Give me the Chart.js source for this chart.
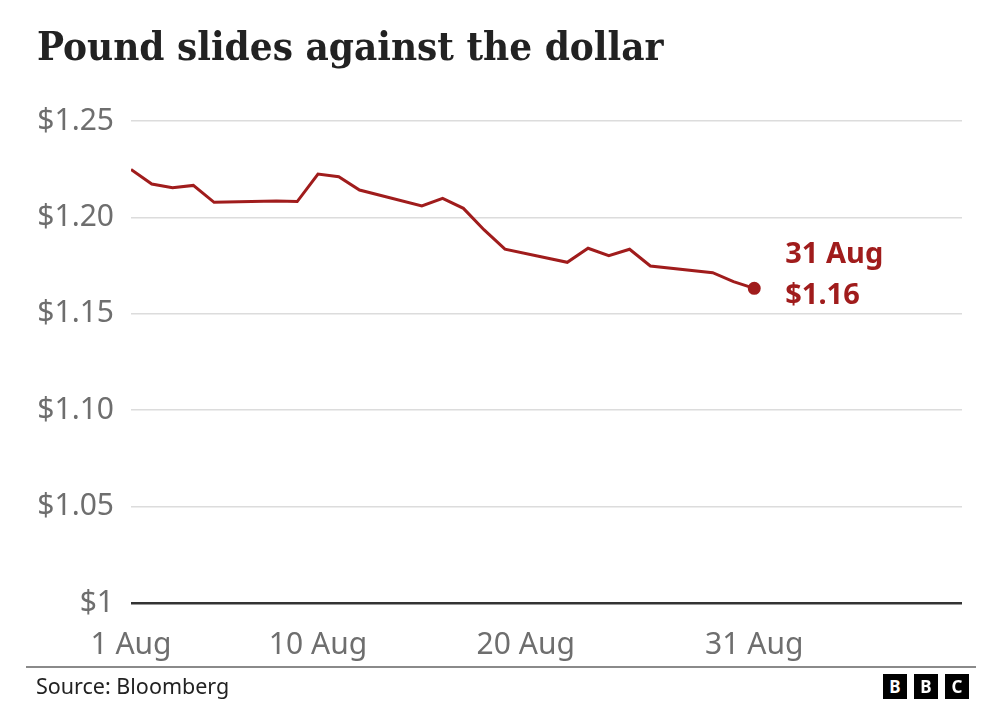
<!DOCTYPE html>
<html>
<head>
<meta charset="utf-8">
<script src="https://cdn.jsdelivr.net/npm/chart.js@4.4.0/dist/chart.umd.min.js"></script>
<style>
    body { margin: 0; background: #fff; }
    #wrap { position: relative; width: 999px; height: 727px; overflow: hidden; }
    #lineChart { position: absolute; left: 0; top: 0; }
    .title {
        position: absolute; left: 37px; top: 22px;
        font-family: 'DejaVu Serif Condensed', 'DejaVu Serif', serif;
        font-weight: bold; font-size: 40px; color: #222; line-height: 48px;
        white-space: nowrap;
    }
    .rule { position: absolute; left: 26px; top: 666px; width: 950px; height: 2px; background: #8a8a8a; }
    .source {
        position: absolute; left: 36px; top: 672px;
        font-family: 'Noto Sans', sans-serif; font-size: 21.5px; color: #222; line-height: 28px;
    }
    .bbc { position: absolute; top: 674px; width: 24px; height: 25px; background: #000;
        color: #fff; font-family: 'Noto Sans', sans-serif; font-weight: bold; font-size: 17px;
        line-height: 25px; text-align: center; }
</style>
</head>
<body>
<div id="wrap">
    <canvas id="lineChart" width="999" height="727"></canvas>
    <div class="title">Pound slides against the dollar</div>
    <div class="rule"></div>
    <div class="source">Source: Bloomberg</div>
    <div class="bbc" style="left:883px">B</div>
    <div class="bbc" style="left:914px">B</div>
    <div class="bbc" style="left:945px">C</div>
</div>
<script>
// August trading days and GBP/USD close
const days = [1, 2, 3, 4, 5, 8, 9, 10, 11, 12, 15, 16, 17, 18, 19, 22, 23, 24, 25, 26, 29, 30, 31];
const rates = [1.2249, 1.2173, 1.2154, 1.2166, 1.2078, 1.2085, 1.2082, 1.2225, 1.2211, 1.2142, 1.2059, 1.2099,
    1.2047, 1.1935, 1.1835, 1.1767, 1.1840, 1.1801, 1.1835, 1.1748, 1.1713, 1.1667, 1.1632];
const xTickDays = [1, 10, 20, 31];
const xTickLabels = ['1 Aug', '10 Aug', '20 Aug', '31 Aug'];
const yTicks = [1, 1.05, 1.10, 1.15, 1.20, 1.25];
const yTickLabels = ['$1', '$1.05', '$1.10', '$1.15', '$1.20', '$1.25'];
const lastLabel = ['31 Aug', '$1.16'];

const red = '#a01c1c';

// label next to the last point
const endLabel = {
    id: 'endLabel',
    afterDatasetsDraw(chart) {
        const c = chart.ctx;
        const i = days.length - 1;
        const x = chart.scales.x.getPixelForValue(days[i]);
        const y = chart.scales.y.getPixelForValue(rates[i]);
        c.save();
        c.fillStyle = red;
        c.font = 'bold 29px "Noto Sans"';
        c.textAlign = 'left';
        c.textBaseline = 'alphabetic';
        c.fillText(lastLabel[0], x + 31, y - 25);
        c.fillText(lastLabel[1], x + 31, y + 16);
        c.restore();
    }
};

const ctx = document.getElementById('lineChart').getContext('2d');
const lineChart = new Chart(ctx, {
    type: 'line',
    data: {
        datasets: [{
            data: days.map((d, i) => ({ x: d, y: rates[i] })),
            borderColor: red,
            backgroundColor: red,
            borderWidth: 3,
            tension: 0,
            pointRadius: (c) => c.dataIndex === days.length - 1 ? 5 : 0,
            pointHoverRadius: 0
        }]
    },
    options: {
        responsive: false,
        animation: false,
        events: [],
        layout: { padding: { top: 121, right: 37, bottom: 0, left: 0 } },
        plugins: { legend: { display: false }, tooltip: { enabled: false } },
        scales: {
            x: {
                type: 'linear',
                min: 1,
                max: 41,
                afterBuildTicks: (s) => { s.ticks = xTickDays.map(v => ({ value: v })); },
                afterFit: (s) => { s.height = 124; },
                grid: { display: false },
                border: { display: false },
                ticks: {
                    padding: 16,
                    color: '#6e6e6e',
                    font: { family: 'Noto Sans', size: 30 },
                    maxRotation: 0,
                    autoSkip: false,
                    callback: (v) => xTickLabels[xTickDays.indexOf(v)]
                }
            },
            y: {
                min: 1,
                max: 1.25,
                afterBuildTicks: (s) => { s.ticks = yTicks.map(v => ({ value: v })); },
                afterFit: (s) => { s.width = 131; },
                border: { display: false },
                grid: {
                    drawTicks: false,
                    color: (c) => c.tick && c.tick.value === 1 ? '#333' : '#dcdcdc',
                    lineWidth: (c) => c.tick && c.tick.value === 1 ? 2.6 : 1.5
                },
                ticks: {
                    padding: 17,
                    color: '#6e6e6e',
                    font: { family: 'Noto Sans', size: 30 },
                    callback: (v) => yTickLabels[yTicks.findIndex(t => Math.abs(t - v) < 1e-6)]
                }
            }
        }
    },
    plugins: [endLabel]
});
</script>
</body>
</html>
